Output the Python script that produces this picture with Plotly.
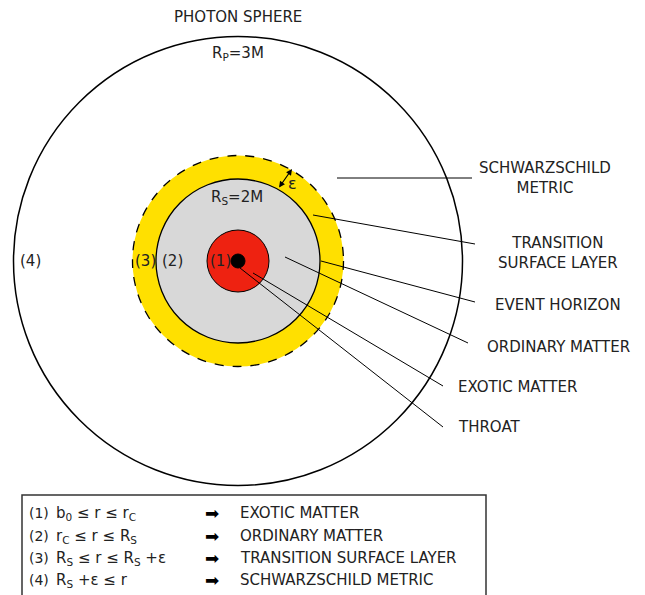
import plotly.graph_objects as go

# Zonas do diagrama (raios em px, centro em 0,0)
zone_names = ["Photon sphere", "Transition layer", "Ordinary matter", "Exotic matter", "Throat"]
zone_radius = [224.5, 105.5, 82, 31, 7]

# Rótulos das zonas
region_tags = ["(4)", "(3)", "(2)", "(1)"]
region_x = [-208, -93, -66, -18]

# Linhas de chamada: ponto na figura -> ponto junto do texto
callout_text = ["SCHWARZSCHILD<br>METRIC", "TRANSITION<br>SURFACE LAYER", "EVENT HORIZON",
                "ORDINARY MATTER", "EXOTIC MATTER", "THROAT"]
callout_from = [(99, 83), (75, 46), (83, 0), (47, 4), (15, -12), (2, -7)]
callout_to = [(234, 83), (237, 17), (237, -41), (230, -82), (205, -125), (205, -166)]
callout_label = [(307, 83, "center"), (320, 8, "center"), (320, -44, "center"),
                 (320, -86, "center"), (218, -126, "left"), (218, -166, "left")]

# Tabela da legenda
legend_tags = ["(1)", "(2)", "(3)", "(4)"]
legend_range = ["b<sub>0</sub> ≤ r ≤ r<sub>C</sub>", "r<sub>C</sub> ≤ r ≤ R<sub>S</sub>",
                "R<sub>S</sub> ≤ r ≤ R<sub>S</sub> +ε", "R<sub>S</sub> +ε ≤ r"]
legend_meaning = ["EXOTIC MATTER", "ORDINARY MATTER", "TRANSITION SURFACE LAYER", "SCHWARZSCHILD METRIC"]
legend_y = [-252, -275, -297, -319]

FONT = "DejaVu Sans"
INK = "#222222"

fill = ["white", "#FFE000", "#D8D8D8", "#EE2211", "black"]
edge_dash = ["solid", "dash", "solid", "solid", "solid"]
edge_width = [1.5, 1.3, 1.3, 1, 1]

fig = go.Figure()
fig.add_trace(go.Scatter(x=[0], y=[0], mode="markers", marker=dict(size=1, color="rgba(0,0,0,0)"),
                         hoverinfo="skip", showlegend=False))

for r, fc, dash, w in zip(zone_radius, fill, edge_dash, edge_width):
    fig.add_shape(type="circle", xref="x", yref="y", x0=-r, y0=-r, x1=r, y1=r,
                  fillcolor=fc, line=dict(color="black", width=w, dash=dash), layer="below")

for (x0, y0), (x1, y1) in zip(callout_from, callout_to):
    fig.add_shape(type="line", x0=x0, y0=y0, x1=x1, y1=y1, line=dict(color="black", width=1))

def label(x, y, text, size=15, align="center", xanchor="center", color=INK):
    fig.add_annotation(x=x, y=y, text=text, showarrow=False, xanchor=xanchor, yanchor="middle",
                       align=align, font=dict(family=FONT, size=size, color=color))

for (x, y, anchor), text in zip(callout_label, callout_text):
    label(x, y, text, align="center", xanchor=anchor)

for tag, x in zip(region_tags, region_x):
    label(x, 0, tag)

label(0, 244, "PHOTON SPHERE")
label(0, 208, "R<sub>P</sub>=3M")
label(-1, 64, "R<sub>S</sub>=2M")
label(54, 78, "ε", size=16)

# Seta dupla do ε (entre R_S e R_S+ε)
fig.add_annotation(x=54, y=92, ax=40, ay=72, xref="x", yref="y", axref="x", ayref="y",
                   text="", showarrow=True, arrowhead=2, arrowside="end+start",
                   arrowsize=1, arrowwidth=1.2, arrowcolor="black")

# Caixa da legenda
fig.add_shape(type="rect", x0=-216, y0=-345, x1=248, y1=-234,
              line=dict(color="#333333", width=1.5), fillcolor="white")
for tag, rng, meaning, y in zip(legend_tags, legend_range, legend_meaning, legend_y):
    label(-211, y, tag, size=14, xanchor="left")
    label(-184, y, rng, size=15, xanchor="left")
    label(-26, y, "➡", size=17, color="black")
    label(0, y, meaning, size=15, xanchor="left")

# a página tem 8px de margem no body: desloca o intervalo para compensar
fig.update_layout(
    width=645, height=595,
    margin=dict(l=0, r=0, t=0, b=0),
    plot_bgcolor="white", paper_bgcolor="white",
    xaxis=dict(range=[-230, 415], visible=False, fixedrange=True),
    yaxis=dict(range=[-342, 253], visible=False, fixedrange=True),
    showlegend=False,
)
fig.write_html("out.html")
